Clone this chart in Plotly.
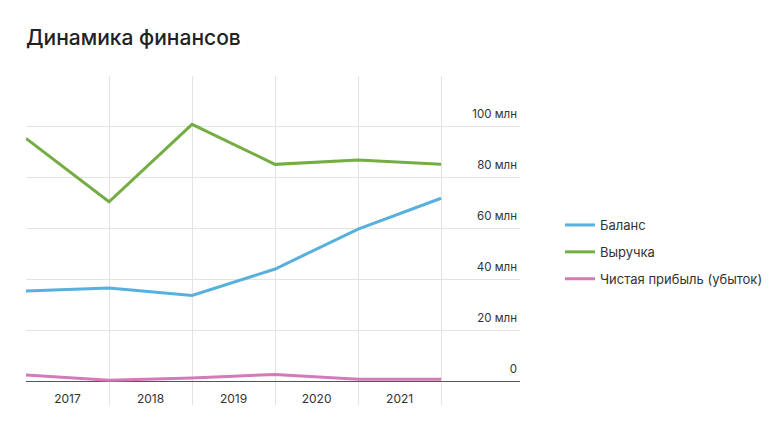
import plotly.graph_objects as go

years = ["2017", "2018", "2019", "2020", "2021"]
balance = [35.4, 36.5, 33.6, 44.0, 59.7, 71.8]
revenue = [95.3, 70.4, 100.8, 85.1, 86.8, 85.1]
profit = [2.4, 0.3, 1.2, 2.6, 0.7, 0.7]
y_ticks = [0, 20, 40, 60, 80, 100]
y_ticktext = ["0", "20 млн", "40 млн", "60 млн", "80 млн", "100 млн"]

names = ["Баланс", "Выручка", "Чистая прибыль (убыток)"]
colors = ["#58b0dc", "#75ad45", "#d37ab8"]
series = [balance, revenue, profit]

xs = list(range(len(balance)))

fig = go.Figure()
for name, col, vals in zip(names, colors, series):
    fig.add_trace(go.Scatter(
        x=xs, y=vals, mode="lines", name=name, legendgroup=name,
        line=dict(color=col, width=3),
    ))

font_family = "Inter, Roboto, sans-serif"
grid_col = "#e3e3e3"

fig.update_layout(
    width=775, height=423,
    margin=dict(l=26, r=255, t=76, b=18, autoexpand=False),
    paper_bgcolor="white", plot_bgcolor="white",
    font=dict(family=font_family, color="#333333"),
    title=dict(text="Динамика финансов", x=26/775, xanchor="left",
               y=1 - 38/423, yanchor="middle",
               font=dict(size=21, color="#222222", family=font_family, weight=500)),
    showlegend=True,
    legend=dict(xref="container", yref="container",
                x=560 / 775, y=1 - 210 / 423, xanchor="left", yanchor="top",
                font=dict(size=13, color="#333333"), traceorder="grouped",
                tracegroupgap=7, itemwidth=30, bgcolor="rgba(0,0,0,0)"),
    xaxis=dict(range=[0, 5.95], showgrid=False, zeroline=False, showline=False,
               tickvals=[i + 0.5 for i in range(len(years))], ticktext=years,
               ticks="", tickfont=dict(size=12, color="#333333"),
               anchor="free", position=(405 - 390) / 329,
               minor=dict(tickvals=xs, showgrid=True, gridcolor=grid_col, gridwidth=1, ticks="")),
    yaxis=dict(range=[-9.4, 119.8], side="right", tickvals=y_ticks, ticktext=y_ticktext,
               ticklabelposition="inside top", ticklabelshift=-4,
               showgrid=True, gridcolor=grid_col, gridwidth=1,
               zeroline=True, zerolinecolor="#555555", zerolinewidth=1, showline=False,
               ticks="", tickfont=dict(size=11.5, color="#333333")),
)

fig.add_shape(type="line", xref="x", yref="y", x0=xs[0], x1=xs[-1], y0=120, y1=120,
              line=dict(color=grid_col, width=1), layer="below")

fig.write_html("out.html")
